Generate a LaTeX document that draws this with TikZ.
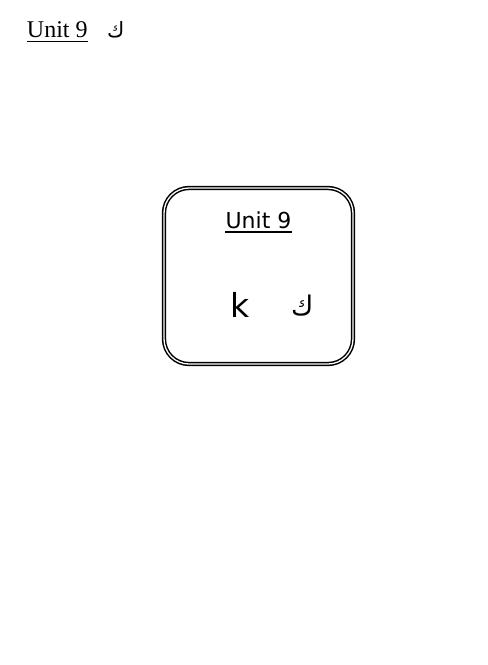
\documentclass[tikz,border=0pt]{standalone}
\usepackage{fontspec}
\setmainfont{Liberation Serif}
\newfontfamily\dejavu{DejaVu Sans}
\newfontfamily\arabicfont[Script=Arabic]{DejaVu Sans}
\TeXXeTstate=1
\begin{document}
\begin{tikzpicture}[x=1pt,y=-1pt,
  lbl/.style={inner sep=0pt, outer sep=0pt, anchor=base west},
  uline/.style={line width=1.5pt},
  card/.style={draw=black, line width=1.5pt, double=white, double distance=1.3pt, rounded corners=25pt}]
\useasboundingbox (0,0) rectangle (488,665);
% top heading
\node[lbl, font=\fontsize{24}{28}\selectfont] (h1) at (27,37) {Unit 9};
\draw[uline] ([yshift=-4.6pt]h1.base west) -- ([yshift=-4.6pt]h1.base east);
\node[lbl, font=\arabicfont\fontsize{21}{24}\selectfont] (h2) at (107,37) {\beginR ك\endR};
% card
\draw[card] (164,188) rectangle (353,364);
\node[inner sep=0pt, anchor=base, font=\dejavu\fontsize{22}{26}\selectfont] (t1) at (258.5,228) {Unit 9};
\draw[uline] ([yshift=-4pt]t1.base west) -- ([yshift=-4pt]t1.base east);
\node[lbl, font=\dejavu\fontsize{33}{38}\selectfont] (k) at (230,317) {k};
\node[lbl, font=\arabicfont\fontsize{27}{30}\selectfont] (kaf) at (291,315) {\beginR ك\endR};
\end{tikzpicture}
\end{document}
